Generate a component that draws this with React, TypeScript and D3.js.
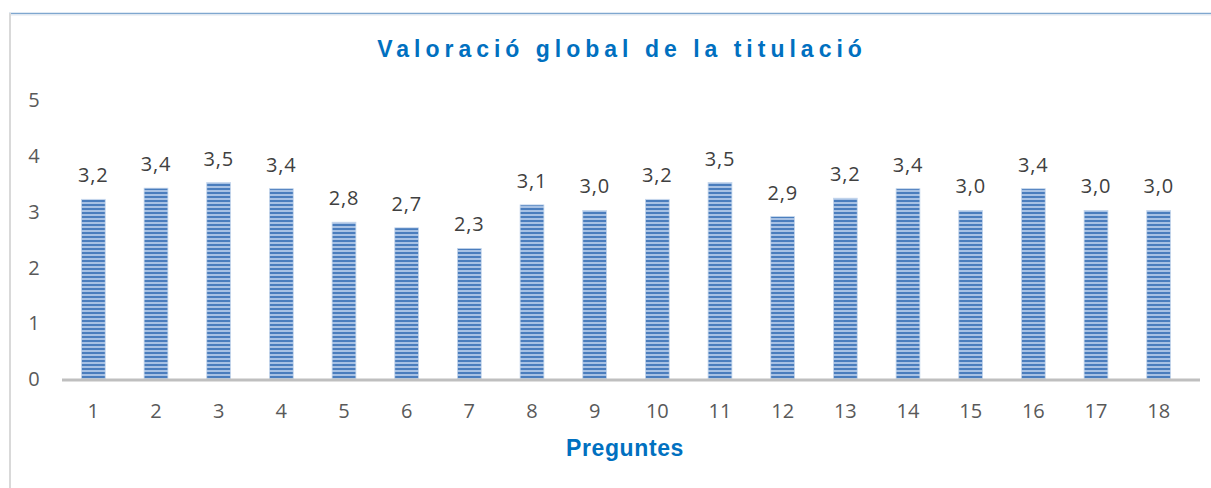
import React from "react";
import * as d3 from "d3";

const categories = ["1","2","3","4","5","6","7","8","9","10","11","12","13","14","15","16","17","18"];
const values = [3.22, 3.42, 3.52, 3.41, 2.81, 2.71, 2.34, 3.12, 3.02, 3.22, 3.52, 2.91, 3.24, 3.41, 3.02, 3.41, 3.02, 3.02];
const yTicks = [0, 1, 2, 3, 4, 5];
const title = "Valoració global de la titulació";
const xTitle = "Preguntes";

export default function App() {
  const W = 1211, H = 488;
  const x = d3.scaleBand<string>().domain(categories).range([62, 1190]).paddingInner(0.62).paddingOuter(0.31);
  const y = d3.scaleLinear().domain([0, 5]).range([379, 100]);
  const fmt = (v: number) => d3.format(".1f")(v).replace(".", ",");
  const font = "'Liberation Sans', Arial, sans-serif";
  const labelFont = "'Open Sans', 'Noto Sans', sans-serif";
  return (
    <svg width={W} height={H} style={{ position: "absolute", left: 0, top: 0 }}>
      <defs>
        <pattern id="stripes" width="8" height="4" patternUnits="userSpaceOnUse">
          <rect width="8" height="4" fill="#a7c1e4" />
          <rect width="8" height="2" fill="#4a7dbd" />
        </pattern>
      </defs>
      <rect width={W} height={H} fill="#fff" />
      <line x1={9} x2={W} y1={13.5} y2={13.5} stroke="#7fa7cf" strokeWidth={1.5} />
      <line x1={9} x2={W} y1={15} y2={15} stroke="#e0e6ee" strokeWidth={1} />
      <line x1={10} x2={10} y1={13} y2={H} stroke="#d9d9d9" strokeWidth={2} />
      <text x={622} y={57} textAnchor="middle" fill="#0070c0" fontFamily={font} fontWeight="bold" fontSize={23} letterSpacing={5}>{title}</text>
      {yTicks.map(t => (
        <text key={t} x={34} y={y(t)} dy="0.36em" textAnchor="middle" fill="#595959" fontFamily={labelFont} fontSize={20}>{t}</text>
      ))}
      {categories.map((c, i) => {
        const bx = x(c)!;
        const bw = x.bandwidth();
        return (
          <g key={c}>
            <rect x={bx} y={y(values[i])} width={bw} height={y(0) - y(values[i])} fill="url(#stripes)" stroke="#c5d6ec" strokeWidth={0.8} />
            <text x={bx + bw / 2} y={y(values[i]) - 17} textAnchor="middle" fill="#404040" fontFamily={labelFont} fontSize={20} letterSpacing={0.8}>{fmt(values[i])}</text>
            <text x={bx + bw / 2} y={418} textAnchor="middle" fill="#595959" fontFamily={labelFont} fontSize={20}>{c}</text>
          </g>
        );
      })}
      <line x1={62} x2={1200} y1={y(0) + 1} y2={y(0) + 1} stroke="#bfbfbf" strokeWidth={3} />
      <text x={625} y={456} textAnchor="middle" fill="#0070c0" fontFamily={font} fontWeight="bold" fontSize={23} letterSpacing={0.6}>{xTitle}</text>
    </svg>
  );
}
